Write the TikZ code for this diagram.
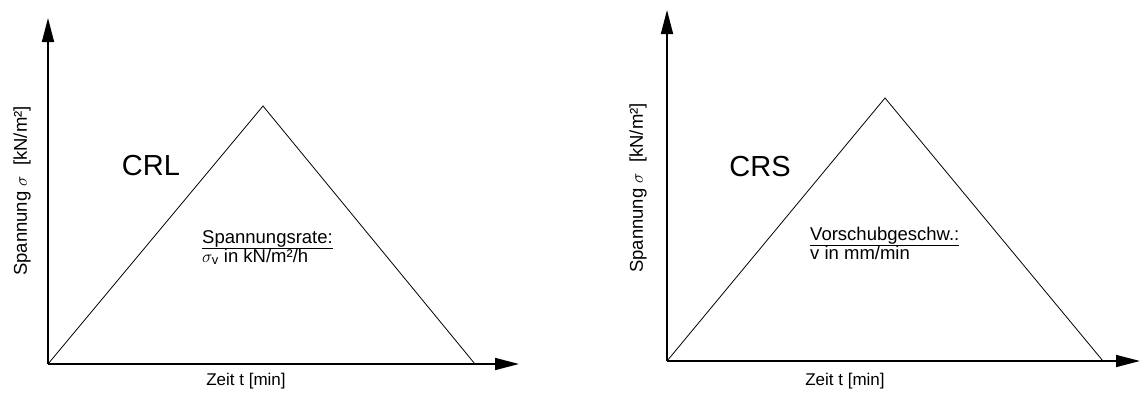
\documentclass[tikz,border=0pt]{standalone}
\usepackage{fontspec}
\setmainfont{Liberation Sans}
\usetikzlibrary{arrows.meta}
\begin{document}
\begin{tikzpicture}[x=1pt,y=-1pt,
  axis/.style={line width=1.6pt,-{Triangle[length=24pt,width=12pt]}},
  tri/.style={line width=0.8pt},
  lbl/.style={inner sep=0pt,font=\fontsize{17}{20}\selectfont},
  ylbl/.style={inner sep=0pt,rotate=90,font=\fontsize{18.5}{20}\selectfont},
  rate/.style={inner sep=0pt,anchor=base west,font=\fontsize{18.5}{20}\selectfont},
  big/.style={inner sep=0pt,font=\fontsize{29}{32}\selectfont}]
\useasboundingbox (0,0) rectangle (1140,394);
% left chart
\coordinate (o1) at (48,364);
\coordinate (y1) at (48,18);
\coordinate (x1) at (519,364);
\coordinate (p1) at (263,106);
\coordinate (e1) at (475,364);
\draw[axis] (o1) -- (y1);
\draw[axis] (o1) -- (x1);
\draw[tri] (o1) -- (p1) -- (e1);
\node[ylbl] (yl1) at (22,191) {Spannung $\sigma$\ \ [kN/m²]};
\node[lbl] (xl1) at (246,381) {Zeit t [min]};
\node[big] (crl) at (151,166) {CRL};
\node[rate] (r1a) at (202,243) {\underline{Spannungsrate:}};
\node[rate] (r1b) at (202,262) {$\sigma_{\mathrm{v}}$ in kN/m²/h};
% right chart
\coordinate (o2) at (667,361);
\coordinate (y2) at (667,10);
\coordinate (x2) at (1140,361);
\coordinate (p2) at (885,98);
\coordinate (e2) at (1103,361);
\draw[axis] (o2) -- (y2);
\draw[axis] (o2) -- (x2);
\draw[tri] (o2) -- (p2) -- (e2);
\node[ylbl] (yl2) at (638,188) {Spannung $\sigma$\ \ [kN/m²]};
\node[lbl] (xl2) at (845,381) {Zeit t [min]};
\node[big] (crs) at (760,167) {CRS};
\node[rate] (r2a) at (810,240) {\underline{Vorschubgeschw.:}};
\node[rate] (r2b) at (810,259) {v in mm/min};
\end{tikzpicture}
\end{document}
